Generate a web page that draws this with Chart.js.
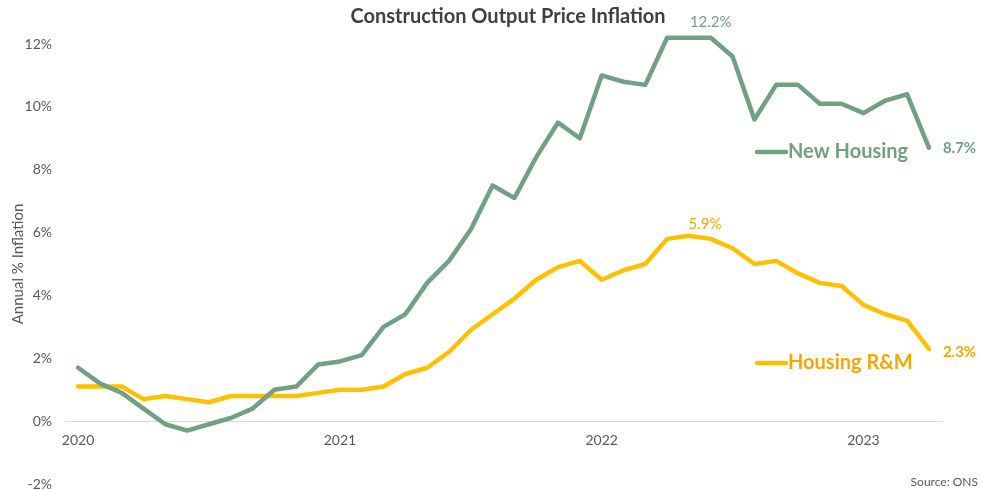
<!DOCTYPE html>
<html>
<head>
<meta charset="utf-8">
<script src="https://cdn.jsdelivr.net/npm/chart.js@4"></script>
<style>
html,body{margin:0;padding:0;background:#fff;}
#wrap{width:982px;height:490px;position:relative;}
</style>
</head>
<body>
<div id="wrap"><canvas id="c" width="982" height="490"></canvas></div>
<script>
const months = ["Jan 2020","Feb 2020","Mar 2020","Apr 2020","May 2020","Jun 2020","Jul 2020","Aug 2020","Sep 2020","Oct 2020","Nov 2020","Dec 2020",
"Jan 2021","Feb 2021","Mar 2021","Apr 2021","May 2021","Jun 2021","Jul 2021","Aug 2021","Sep 2021","Oct 2021","Nov 2021","Dec 2021",
"Jan 2022","Feb 2022","Mar 2022","Apr 2022","May 2022","Jun 2022","Jul 2022","Aug 2022","Sep 2022","Oct 2022","Nov 2022","Dec 2022",
"Jan 2023","Feb 2023","Mar 2023","Apr 2023"];
const newHousing = [1.7,1.2,0.9,0.4,-0.1,-0.3,-0.1,0.1,0.4,1.0,1.1,1.8,
1.9,2.1,3.0,3.4,4.4,5.1,6.1,7.5,7.1,8.4,9.5,9.0,
11.0,10.8,10.7,12.2,12.2,12.2,11.6,9.6,10.7,10.7,10.1,10.1,
9.8,10.2,10.4,8.7];
const housingRM = [1.1,1.1,1.1,0.7,0.8,0.7,0.6,0.8,0.8,0.8,0.8,0.9,
1.0,1.0,1.1,1.5,1.7,2.2,2.9,3.4,3.9,4.5,4.9,5.1,
4.5,4.8,5.0,5.8,5.9,5.8,5.5,5.0,5.1,4.7,4.4,4.3,
3.7,3.4,3.2,2.3];
const yearTicks = [0,12,24,36];
const yearLabels = ["2020","2021","2022","2023"];
const yTicks = [-2,0,2,4,6,8,10,12];
const seriesNames = ["New Housing","Housing R&M"];

const GREEN = '#70a182';
const GOLD = '#ffc000';
const GOLD_TEXT = '#f6a800';
const FONT = 'Lato, "Open Sans", sans-serif';

const toXY = arr => arr.map((v,i)=>({x:i,y:v}));

const annot = {
  id:'annot',
  afterDraw(chart){
    const ctx = chart.ctx;
    const xs = chart.scales.x, ys = chart.scales.y;
    ctx.save();
    // title
    ctx.fillStyle = '#404040';
    ctx.font = 'bold 20px ' + FONT;
    ctx.textAlign = 'center'; ctx.textBaseline = 'middle';
    ctx.fillText('Construction Output Price Inflation', 508, 17);
    // peak labels
    const iNH = newHousing.length-1;
    ctx.font = '15px ' + FONT;
    ctx.fillStyle = GREEN;
    ctx.textAlign = 'center';
    ctx.fillText(newHousing[29].toFixed(1)+'%', xs.getPixelForValue(29), ys.getPixelForValue(newHousing[29]) - 16);
    ctx.fillStyle = GOLD_TEXT;
    ctx.fillText(housingRM[28].toFixed(1)+'%', xs.getPixelForValue(28)+16, ys.getPixelForValue(housingRM[28]) - 12);
    // end labels
    ctx.font = 'bold 15px ' + FONT;
    ctx.textAlign = 'left';
    ctx.fillStyle = GREEN;
    ctx.fillText(newHousing[iNH].toFixed(1)+'%', xs.getPixelForValue(iNH)+14, ys.getPixelForValue(newHousing[iNH]));
    ctx.fillStyle = GOLD_TEXT;
    ctx.fillText(housingRM[iNH].toFixed(1)+'%', xs.getPixelForValue(iNH)+14, ys.getPixelForValue(housingRM[iNH])+3);
    // inline legends
    const leg = [[seriesNames[0], GREEN, GREEN, 152],[seriesNames[1], GOLD, GOLD_TEXT, 363]];
    leg.forEach(([t, lc, tc, y])=>{
      ctx.strokeStyle = lc; ctx.lineWidth = 4.5; ctx.lineCap = 'round';
      ctx.beginPath(); ctx.moveTo(757,y); ctx.lineTo(786,y); ctx.stroke();
      ctx.fillStyle = tc; ctx.font = 'bold 20px ' + FONT;
      ctx.textAlign = 'left'; ctx.textBaseline = 'middle';
      ctx.fillText(t, 788, y);
    });
    // source
    ctx.fillStyle = '#595959';
    ctx.font = '12px ' + FONT;
    ctx.textAlign = 'right';
    ctx.fillText('Source: ONS', 978, 482);
    ctx.restore();
  }
};

new Chart(document.getElementById('c'), {
  type:'line',
  data:{
    datasets:[
      {label:seriesNames[0], data:toXY(newHousing), borderColor:GREEN, borderWidth:4.5, pointRadius:0, tension:0, borderJoinStyle:'round', borderCapStyle:'round', clip:false},
      {label:seriesNames[1], data:toXY(housingRM), borderColor:GOLD, borderWidth:4.5, pointRadius:0, tension:0, borderJoinStyle:'round', borderCapStyle:'round', clip:false}
    ]
  },
  options:{
    responsive:false,
    animation:false,
    events:[],
    layout:{padding:{top:44,bottom:6,left:0,right:40}},
    plugins:{legend:{display:false}, title:{display:false}, tooltip:{enabled:false}},
    scales:{
      x:{
        type:'linear', position:{y:0}, min:-0.6, max:39.6,
        grid:{display:false, drawTicks:false},
        border:{display:true, color:'#d9d9d9', width:1},
        afterBuildTicks: s => { s.ticks = yearTicks.map(v=>({value:v})); },
        ticks:{ autoSkip:false, maxRotation:0, padding:11, color:'#595959', font:{family:FONT, size:14},
          callback:(v,i)=> yearLabels[yearTicks.indexOf(v)] }
      },
      y:{
        min:-2, max:12,
        afterBuildTicks: s => { s.ticks = yTicks.map(v=>({value:v})); },
        afterFit: s => { s.width = 65; s.paddingTop = 0; s.paddingBottom = 0; },
        grid:{display:false, drawTicks:false},
        border:{display:false},
        ticks:{ padding:13, color:'#595959', font:{family:FONT, size:14}, callback:v=> v+'%' },
        title:{ display:true, text:'Annual % Inflation', color:'#595959', font:{family:FONT, size:15}, padding:{top:9,bottom:0} }
      }
    }
  },
  plugins:[annot]
});
</script>
</body>
</html>
